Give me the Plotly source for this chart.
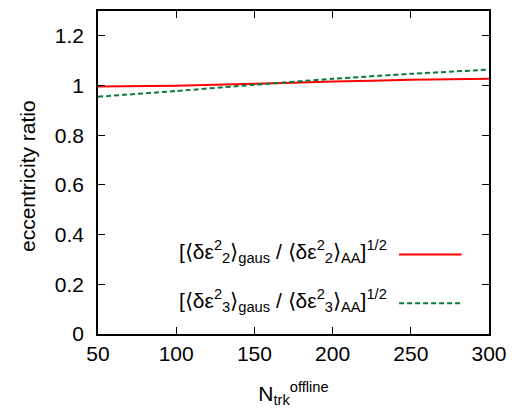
import plotly.graph_objects as go

x_vals = [50, 100, 150, 200, 250, 300]
ratio_eps2 = [0.996, 0.999, 1.007, 1.016, 1.023, 1.027]
ratio_eps3 = [0.955, 0.978, 1.003, 1.027, 1.047, 1.064]
series_names = [
    "[⟨δε<sup>2</sup><sub>2</sub>⟩<sub>gaus</sub> / ⟨δε<sup>2</sup><sub>2</sub>⟩<sub>AA</sub>]<sup>1/2</sup>",
    "[⟨δε<sup>2</sup><sub>3</sub>⟩<sub>gaus</sub> / ⟨δε<sup>2</sup><sub>3</sub>⟩<sub>AA</sub>]<sup>1/2</sup>",
]
x_ticks = [50, 100, 150, 200, 250, 300]
y_ticks = [0, 0.2, 0.4, 0.6, 0.8, 1, 1.2]
y_tick_text = ["0", "0.2", "0.4", "0.6", "0.8", "1", "1.2"]
x_title = "N<sub>trk</sub><sup>offline</sup>"
y_title = "eccentricity ratio"

colors = ["#ff0000", "#0b7a3e"]
dashes = ["solid", "5px,3px"]
FONT = "Liberation Sans, Arial, Helvetica, sans-serif"

fig = go.Figure()
for ys, c, d, n in zip([ratio_eps2, ratio_eps3], colors, dashes, series_names):
    fig.add_trace(go.Scatter(x=x_vals, y=ys, mode="lines", name=n,
                             line=dict(color=c, width=2, dash=d, shape="spline", smoothing=0.6),
                             showlegend=False))

# manual legend (text left, sample on right, like gnuplot)
leg_y = [0.246, 0.095]
for n, c, d, yy in zip(series_names, colors, dashes, leg_y):
    fig.add_annotation(xref="paper", yref="paper", x=0.745, y=yy + 0.008, text=n,
                       showarrow=False, xanchor="right", yanchor="middle",
                       font=dict(family=FONT, size=21, color="black"))
    fig.add_shape(type="line", xref="paper", yref="paper", x0=0.77, x1=0.93,
                  y0=yy, y1=yy, line=dict(color=c, width=2, dash=d))

# y-axis title as rotated annotation
fig.add_annotation(xref="paper", yref="paper", x=-0.1816, y=0.489, text=y_title,
                   textangle=-90, showarrow=False, xanchor="center", yanchor="middle",
                   font=dict(family=FONT, size=21, color="black"))

axis_common = dict(showgrid=False, zeroline=False, showline=True, linecolor="black",
                   linewidth=1.5, mirror="ticks", ticks="inside", ticklen=7,
                   tickwidth=1, tickcolor="black",
                   tickfont=dict(family=FONT, size=21, color="black"))

fig.update_xaxes(range=[50, 300], tickvals=x_ticks, **axis_common,
                 title=dict(text=x_title,
                            font=dict(family=FONT, size=21, color="black"), standoff=22))
fig.update_yaxes(range=[0, 1.3], tickvals=y_ticks, ticktext=y_tick_text, **axis_common,
                 ticklabelstandoff=8)

fig.update_layout(width=523, height=417, margin=dict(l=98, r=34, t=9, b=83),
                  plot_bgcolor="white", paper_bgcolor="white",
                  font=dict(family=FONT, color="black"))

fig.write_html("out.html")
